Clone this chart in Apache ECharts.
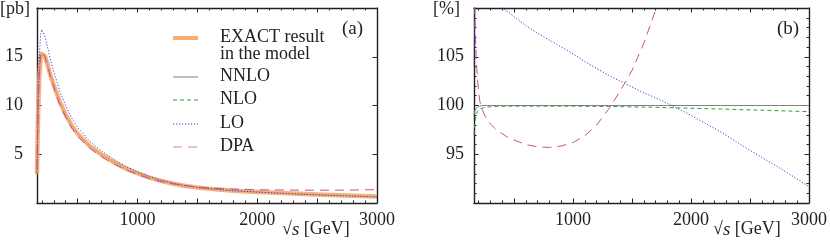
<!DOCTYPE html>
<html>
<head>
<meta charset="utf-8">
<script src="https://cdn.jsdelivr.net/npm/echarts@6/dist/echarts.min.js"></script>
<style>html,body{margin:0;padding:0;background:#fff}#c{width:830px;height:241px}</style>
</head>
<body>
<div id="c"></div>
<script>
// sqrt(s) grid [GeV]
const S = [160,165,170,180,190,200,210,225,250,275,300,350,400,450,500,600,700,800,900,1000,1100,1200,1300,1400,1500,1600,1700,1800,2000,2250,2500,2750,3000];

// Panel (a): cross sections [pb]
const exactPb = [3.0,6.8,9.5,13.0,14.8,15.3,15.4,15.1,14.1,13.0,12.1,10.4,9.05,7.95,7.1,5.85,4.95,4.2,3.55,3.05,2.6,2.25,1.97,1.75,1.58,1.45,1.35,1.26,1.13,0.99,0.87,0.77,0.67];
const nnloPb  = [2.97,6.76,9.46,12.97,14.78,15.28,15.39,15.1,14.1,13.0,12.1,10.4,9.05,7.95,7.1,5.85,4.95,4.2,3.55,3.05,2.6,2.25,1.97,1.75,1.58,1.45,1.35,1.26,1.13,0.99,0.87,0.77,0.67];
const nloPb   = [2.91,6.65,9.36,12.88,14.71,15.23,15.35,15.06,14.07,12.98,12.08,10.39,9.04,7.94,7.09,5.85,4.95,4.2,3.55,3.05,2.6,2.25,1.97,1.75,1.58,1.45,1.35,1.26,1.13,0.99,0.87,0.77,0.666];
const loPb    = [3.12,7.34,10.64,15.08,17.32,17.79,17.63,17.11,15.88,14.56,13.49,11.5,9.96,8.71,7.75,6.33,5.32,4.48,3.76,3.21,2.72,2.34,2.03,1.79,1.61,1.47,1.36,1.26,1.12,0.96,0.83,0.72,0.61];
const dpaPb   = [3.54,7.55,10.24,13.59,15.18,15.5,15.46,15.05,13.96,12.81,11.87,10.14,8.79,7.69,6.85,5.62,4.74,4.02,3.4,2.93,2.52,2.2,1.96,1.78,1.64,1.54,1.48,1.43,1.36,1.33,1.31,1.32,1.37];

// Panel (b): ratios to EXACT [%]
const nnloPct = [99.0,99.4,99.6,99.75,99.85,99.9,99.95,100,100,100,100,100,100,100,100,100,100,100,100,100,100,100,100,100,100,100,100,100,100,100,100,100,100];
const nloPct  = [97.0,97.8,98.5,99.1,99.4,99.55,99.65,99.72,99.8,99.84,99.87,99.9,99.92,99.93,99.93,99.93,99.93,99.93,99.93,99.93,99.92,99.91,99.9,99.88,99.86,99.84,99.81,99.78,99.72,99.64,99.55,99.46,99.37];
const loPct   = [104,108,112,116,117,116.3,114.5,113.3,112.6,112,111.5,110.6,110.0,109.6,109.1,108.2,107.4,106.7,106.0,105.3,104.5,103.8,103.1,102.5,101.9,101.3,100.8,100.2,99.0,97.3,95.4,93.6,91.7];
const dpaPct  = [118,111,107.8,104.5,102.6,101.3,100.4,99.7,99.0,98.5,98.1,97.5,97.1,96.7,96.45,96.0,95.75,95.7,95.85,96.2,96.9,98.0,99.6,101.5,103.6,106.4,109.8,113.5,122,135,150,170,200];

// Axis ticks
const xMajorTicks = [500,1000,1500,2000,2500,3000];
const xMinorTicks = [200,300,400,600,700,800,900,1100,1200,1300,1400,1600,1700,1800,1900,2100,2200,2300,2400,2600,2700,2800,2900];
const xTickLabels = [1000,2000,3000];
const yLeftTicks = [5,10,15];
const yRightTicks = [95,100,105];
const yRightMinor = [91,92,93,94,96,97,98,99,101,102,103,104,106,107,108,109];

const legendNames = ['EXACT result\nin the model','NNLO','NLO','LO','DPA'];

const FONT = 'Liberation Serif';
const INK = '#222';
const C = {exact:'#f6a566', nnlo:'#808080', nlo:'#3a9a3a', lo:'#3d3dd6', dpa:'#c2509a'};

function pairs(v){ return S.map((s,i)=>[s,v[i]]); }
const plain = v => String(v);

function xAx(grid, pos, ticks, len, labels, line){
  return {type:'value', gridIndex:grid, position:pos, min:160, max:3000,
    axisLine:{show:line, onZero:false, lineStyle:{color:INK, width:1.4}},
    axisTick:{show:true, inside:true, length:len, customValues:ticks, lineStyle:{color:INK, width:1}},
    axisLabel:{show:!!labels, customValues:labels||[], formatter:plain, margin:8, color:INK, fontFamily:FONT, fontSize:18},
    splitLine:{show:false}};
}
function yAx(grid, pos, min, max, ticks, len, labels, line, margin){
  return {type:'value', gridIndex:grid, position:pos, min:min, max:max,
    axisLine:{show:line, onZero:false, lineStyle:{color:INK, width:1.4}},
    axisTick:{show:true, inside:true, length:len, customValues:ticks, lineStyle:{color:INK, width:1}},
    axisLabel:{show:!!labels, customValues:labels||[], formatter:plain, margin:margin||10, color:INK, fontFamily:FONT, fontSize:18},
    splitLine:{show:false}};
}

function ser(name, xi, yi, data, color, width, dash, z, opacity){
  return {name:name, type:'line', xAxisIndex:xi, yAxisIndex:yi, data:pairs(data), showSymbol:false, symbol:'none',
    smooth:false, clip:true, z:z,
    lineStyle:{color:color, width:width, type:dash||'solid', opacity:opacity==null?1:opacity, join:'round'}};
}

const chart = echarts.init(document.getElementById('c'), null, {renderer:'canvas'});

const legendY = [38,77,100,124,147];
const legendStyles = [
  {stroke:C.exact, lineWidth:4, opacity:0.9},
  {stroke:C.nnlo, lineWidth:1},
  {stroke:C.nlo, lineWidth:1, lineDash:[4,3]},
  {stroke:C.lo, lineWidth:1, lineDash:[1.2,1.8]},
  {stroke:C.dpa, lineWidth:1, lineDash:[9,6], opacity:0.7}
];
const graphics = [];
legendNames.forEach((n,i)=>{
  graphics.push({type:'line', shape:{x1:173,y1:legendY[i],x2:198,y2:legendY[i]}, style:legendStyles[i], silent:true});
  graphics.push({type:'text', left:220, top:legendY[i]-10, style:{text:n, fill:INK, font:'18px "'+FONT+'"', lineHeight:17}});
});
graphics.push({type:'text', left:0, top:0, style:{text:'[pb]', fill:INK, font:'18px "'+FONT+'"'}});
graphics.push({type:'text', left:433, top:0, style:{text:'[%]', fill:INK, font:'18px "'+FONT+'"'}});
graphics.push({type:'text', left:342, top:20, style:{text:'(a)', fill:INK, font:'19px "'+FONT+'"'}});
graphics.push({type:'text', left:777, top:20, style:{text:'(b)', fill:INK, font:'19px "'+FONT+'"'}});
const sqrtRich = {i:{fontStyle:'italic', fontFamily:FONT, fontSize:19, fill:INK}, n:{fontFamily:FONT, fontSize:18, fill:INK}};
graphics.push({type:'text', left:282, top:220, style:{text:'{n|√}{i|s}{n| [GeV]}', rich:sqrtRich}});
graphics.push({type:'text', left:713, top:220, style:{text:'{n|√}{i|s}{n| [GeV]}', rich:sqrtRich}});

chart.setOption({
  animation:false,
  backgroundColor:'#fff',
  grid:[
    {left:37, top:8, width:340, height:195},
    {left:474, top:8, width:341, height:195}
  ],
  xAxis:[
    xAx(0,'bottom',xMajorTicks,4.5,xTickLabels,true),
    xAx(0,'top',xMajorTicks,4.5,null,true),
    xAx(0,'bottom',xMinorTicks,2.5,null,false),
    xAx(0,'top',xMinorTicks,2.5,null,false),
    xAx(1,'bottom',xMajorTicks,4.5,xTickLabels,true),
    xAx(1,'top',xMajorTicks,4.5,null,true),
    xAx(1,'bottom',xMinorTicks,2.5,null,false),
    xAx(1,'top',xMinorTicks,2.5,null,false)
  ],
  yAxis:[
    yAx(0,'left',0,20,yLeftTicks,4.5,yLeftTicks,true,14),
    yAx(0,'right',0,20,yLeftTicks,4.5,null,true),
    yAx(1,'left',90,110,yRightTicks,4.5,yRightTicks,true,10),
    yAx(1,'right',90,110,yRightTicks,4.5,null,true),
    yAx(1,'left',90,110,yRightMinor,2.5,null,false),
    yAx(1,'right',90,110,yRightMinor,2.5,null,false)
  ],
  series:[
    ser('NNLO',0,0,nnloPb,C.nnlo,1,'solid',2),
    ser('NLO',0,0,nloPb,C.nlo,1,[4,3],2),
    ser('EXACT',0,0,exactPb,C.exact,4.5,'solid',3,0.85),
    ser('LO',0,0,loPb,C.lo,1,[1.2,1.8],4),
    ser('DPA',0,0,dpaPb,C.dpa,1,[9,6],4),
    ser('NNLO',4,2,nnloPct,C.nnlo,1,'solid',2),
    ser('NLO',4,2,nloPct,C.nlo,1,[4,3],3),
    ser('LO',4,2,loPct,C.lo,1,[1.2,1.8],4),
    ser('DPA',4,2,dpaPct,C.dpa,1,[9,6],4)
  ],
  graphic:graphics
});
</script>
</body>
</html>
